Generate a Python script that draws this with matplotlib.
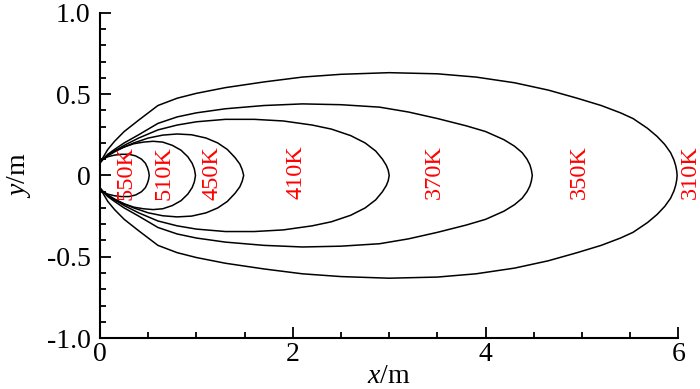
import numpy as np
import matplotlib.pyplot as plt
from matplotlib.ticker import MultipleLocator, FuncFormatter

# Isotherm outlines (upper half; the lower half is mirrored)
x550 = [0, 0.03, 0.08, 0.15, 0.22, 0.30, 0.37, 0.43, 0.47, 0.49, 0.503, 0.51]
h550 = [0.08, 0.10, 0.115, 0.125, 0.13, 0.13, 0.12, 0.10, 0.075, 0.05, 0.025, 0]

x510 = [0, 0.03, 0.08, 0.15, 0.25, 0.35, 0.45, 0.55, 0.65, 0.75, 0.84, 0.91, 0.955,
        0.978, 0.99]
h510 = [0.08, 0.10, 0.125, 0.15, 0.175, 0.195, 0.205, 0.21, 0.205, 0.185, 0.155, 0.115,
        0.075, 0.04, 0]

x450 = [0, 0.03, 0.08, 0.15, 0.25, 0.35, 0.50, 0.65, 0.80, 0.95, 1.10, 1.22, 1.32, 1.40,
        1.45, 1.475, 1.49]
h450 = [0.08, 0.10, 0.12, 0.145, 0.175, 0.20, 0.23, 0.248, 0.255, 0.25, 0.23, 0.20, 0.16,
        0.11, 0.07, 0.035, 0]

x410 = [0, 0.03, 0.08, 0.15, 0.25, 0.40, 0.60, 0.80, 1.00, 1.30, 1.60, 1.90, 2.20, 2.40,
        2.60, 2.75, 2.86, 2.93, 2.97, 2.99, 3.00]
h410 = [0.08, 0.10, 0.125, 0.15, 0.185, 0.23, 0.28, 0.31, 0.33, 0.345, 0.345, 0.335, 0.31,
        0.285, 0.245, 0.20, 0.15, 0.10, 0.062, 0.032, 0]

x370 = [0, 0.03, 0.08, 0.15, 0.25, 0.40, 0.60, 0.80, 1.00, 1.30, 1.70, 2.10, 2.50, 2.90,
        3.20, 3.50, 3.80, 4.00, 4.19, 4.30, 4.38, 4.43, 4.46, 4.475, 4.485]
h370 = [0.08, 0.10, 0.13, 0.16, 0.20, 0.25, 0.32, 0.36, 0.385, 0.41, 0.43, 0.44, 0.435,
        0.42, 0.39, 0.35, 0.305, 0.27, 0.22, 0.18, 0.14, 0.10, 0.065, 0.035, 0]

x310 = [0, 0.03, 0.08, 0.15, 0.25, 0.40, 0.60, 0.80, 1.00, 1.30, 1.70, 2.10, 2.50, 3.00,
        3.50, 3.90, 4.30, 4.65, 4.95, 5.20, 5.40, 5.53, 5.68, 5.78, 5.86, 5.92, 5.955,
        5.973, 5.983, 5.988]
h310 = [0.08, 0.11, 0.16, 0.21, 0.27, 0.34, 0.43, 0.475, 0.505, 0.54, 0.575, 0.605, 0.622,
        0.632, 0.625, 0.605, 0.57, 0.525, 0.475, 0.43, 0.385, 0.35, 0.29, 0.24, 0.19,
        0.14, 0.095, 0.06, 0.03, 0]

# Temperature labels and where they sit
labels  = ["550K", "510K", "450K", "410K", "370K", "350K", "310K"]
label_x = [0.27, 0.66, 1.16, 2.03, 3.47, 4.97, 6.12]
label_y = [0.015, 0.015, 0.015, 0.02, 0.02, 0.02, 0.02]

outlines = [(x550, h550), (x510, h510), (x450, h450), (x410, h410), (x370, h370), (x310, h310)]

plt.rcParams["font.family"] = ["Liberation Serif", "DejaVu Serif"]
plt.rcParams["mathtext.fontset"] = "custom"
plt.rcParams["mathtext.it"] = "Liberation Serif:italic"
plt.rcParams["mathtext.rm"] = "Liberation Serif"

figure = plt.figure(figsize=(7.0, 3.89), dpi=100)
axes = figure.add_axes([0.143, 0.131, 0.826, 0.836])

for xs, hs in outlines:
    xs = np.asarray(xs, dtype=float)
    hs = np.asarray(hs, dtype=float)
    px = np.concatenate([xs, xs[::-1]])
    py = np.concatenate([hs, -hs[::-1]])
    axes.plot(px, py, color="black", linewidth=1.1, solid_joinstyle="round", zorder=2)

for text, tx, ty in zip(labels, label_x, label_y):
    axes.text(tx, ty, text, color="red", fontsize=17.5, rotation=90,
              ha="center", va="center", clip_on=False, zorder=3)

axes.set_xlim(0, 6)
axes.set_ylim(-1, 1)

for side in ["top", "right"]:
    axes.spines[side].set_visible(False)
for side in ["left", "bottom"]:
    axes.spines[side].set_linewidth(1.5)
    axes.spines[side].set_zorder(4)

axes.xaxis.set_major_locator(MultipleLocator(2))
axes.xaxis.set_minor_locator(MultipleLocator(0.5))
axes.yaxis.set_major_locator(MultipleLocator(0.5))
axes.yaxis.set_minor_locator(MultipleLocator(0.1))

axes.xaxis.set_major_formatter(FuncFormatter(lambda v, p: "%g" % v))
axes.yaxis.set_major_formatter(FuncFormatter(lambda v, p: "0" if abs(v) < 1e-9 else "%.1f" % v))

axes.tick_params(which="both", direction="in", width=1.3, labelsize=20)
axes.tick_params(which="major", length=8)
axes.tick_params(which="minor", length=4.5)
axes.tick_params(axis="y", which="major", pad=7)
axes.tick_params(axis="x", which="major", pad=3)

axes.set_xlabel("$x$/m", fontsize=20, labelpad=-2)
axes.set_ylabel("$y$/m", fontsize=20, labelpad=10)

figure.savefig("out.png", dpi=100)
